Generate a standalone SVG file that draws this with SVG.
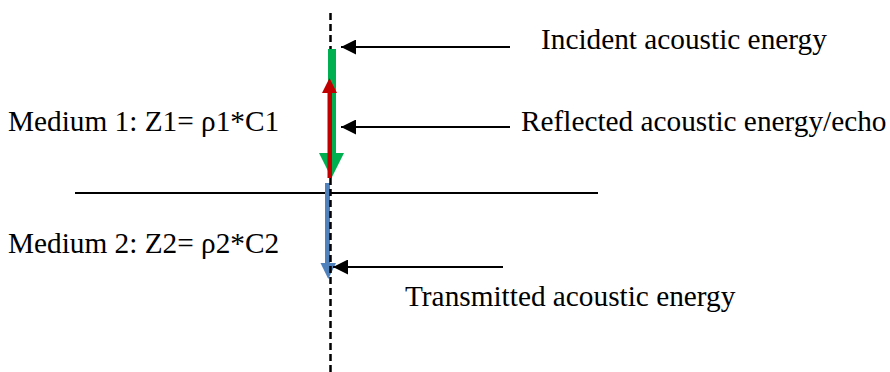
<svg xmlns="http://www.w3.org/2000/svg" width="890" height="372" viewBox="0 0 890 372">
  <style>
    .lbl { font-family: "Liberation Serif", "Times New Roman", serif; font-size: 29.3px; fill: #000; }
    .pointer { stroke: #000; stroke-width: 2; fill: none; }
  </style>
  <defs>
    <marker id="ptr-head" viewBox="0 0 10 10" refX="10" refY="5" markerWidth="7.5" markerHeight="7.5" markerUnits="strokeWidth" orient="auto">
      <path d="M0,0 L10,5 L0,10 Z" fill="#000"/>
    </marker>
  </defs>

  <rect width="890" height="372" fill="#fff"/>

  <!-- interface between the two media -->
  <g id="interface">
    <line x1="75" y1="193" x2="598" y2="193" stroke="#000" stroke-width="2"/>
  </g>

  <!-- transmitted wave (blue), drawn beneath the normal -->
  <g id="transmitted-wave">
    <rect x="325" y="183" width="5" height="82" fill="#4F81BD"/>
    <polygon points="320.5,263 336,263 328.3,279" fill="#4F81BD"/>
  </g>

  <!-- normal to the interface -->
  <g id="normal">
    <line x1="330.5" y1="13" x2="330.5" y2="372" stroke="#000" stroke-width="2.5" stroke-dasharray="7 4"/>
  </g>

  <!-- incident wave (green) -->
  <g id="incident-wave">
    <rect x="328" y="49" width="8" height="106" fill="#00B050"/>
    <polygon points="319,153 344,153 331.5,178" fill="#00B050"/>
  </g>

  <!-- reflected wave (red) -->
  <g id="reflected-wave">
    <rect x="327.5" y="92" width="4.5" height="86" fill="#C00000"/>
    <polygon points="322,93 337,93 329.5,78" fill="#C00000"/>
  </g>

  <!-- label pointers -->
  <g id="connectors">
    <line class="pointer" x1="510" y1="47" x2="341" y2="47" marker-end="url(#ptr-head)"/>
    <line class="pointer" x1="510" y1="127" x2="341" y2="127" marker-end="url(#ptr-head)"/>
    <line class="pointer" x1="503" y1="267" x2="333" y2="267" marker-end="url(#ptr-head)"/>
  </g>

  <g id="label-incident"><text class="lbl" x="541" y="49">Incident acoustic energy</text></g>
  <g id="label-reflected"><text class="lbl" x="521" y="131">Reflected acoustic energy/echo</text></g>
  <g id="label-transmitted"><text class="lbl" x="405" y="306">Transmitted acoustic energy</text></g>
  <g id="label-medium1"><text class="lbl" x="8" y="131">Medium 1: Z1= ρ1*C1</text></g>
  <g id="label-medium2"><text class="lbl" x="8" y="253">Medium 2: Z2= ρ2*C2</text></g>
</svg>
